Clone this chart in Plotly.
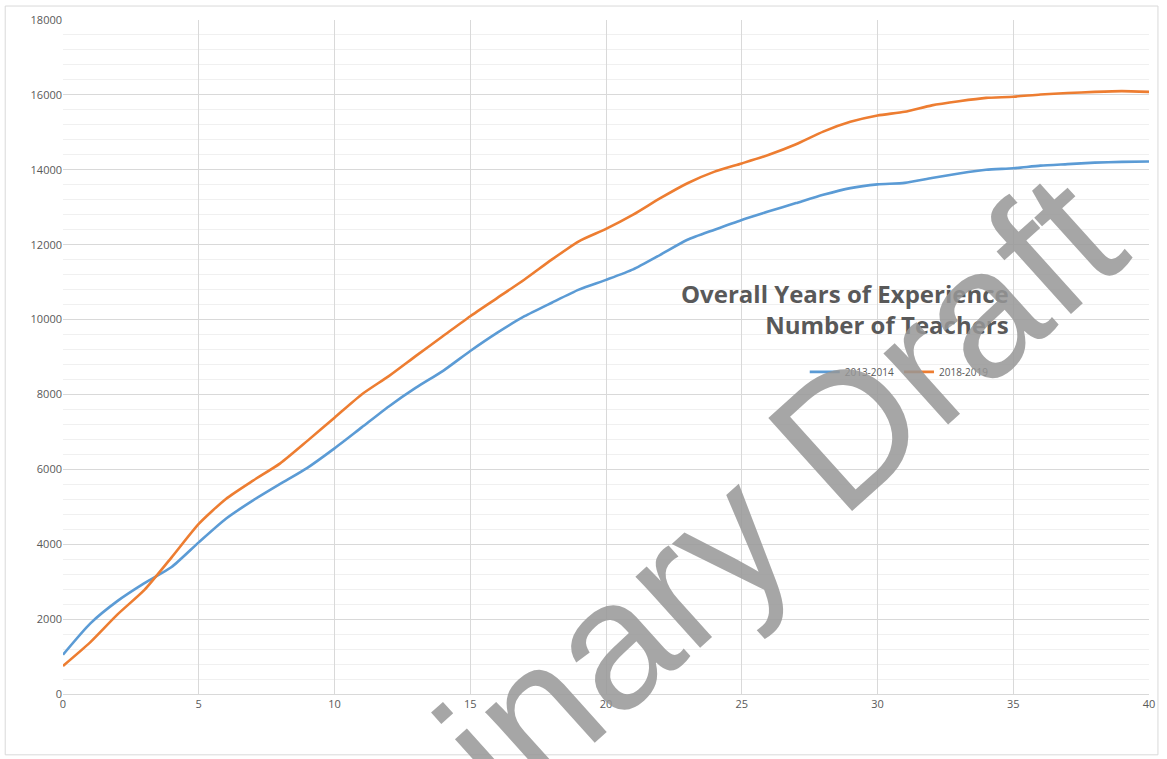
import plotly.graph_objects as go

# Years of experience (0-40) and teacher counts for two school years
years = list(range(0, 41))
teachers_2013_2014 = [
    1050, 1880, 2480, 2960, 3390, 4050, 4680, 5170, 5610, 6040,
    6560, 7120, 7680, 8180, 8630, 9160, 9650, 10090, 10450, 10800,
    11060, 11340, 11730, 12130, 12400, 12660, 12890, 13110, 13330, 13510,
    13610, 13650, 13780, 13900, 14000, 14040, 14110, 14150, 14190, 14210,
    14220,
]
teachers_2018_2019 = [
    750, 1380, 2120, 2780, 3650, 4545, 5210, 5700, 6160, 6760,
    7380, 8000, 8490, 9030, 9560, 10090, 10580, 11070, 11600, 12090,
    12420, 12800, 13240, 13640, 13950, 14170, 14400, 14680, 15020, 15280,
    15450, 15550, 15720, 15830, 15920, 15950, 16010, 16050, 16080, 16100,
    16080,
]
series_names = ["2013-2014", "2018-2019"]
series_colors = ["#5B9BD5", "#ED7D31"]

y_ticks = list(range(0, 18001, 2000))
y_tick_labels = [str(v) for v in y_ticks]
x_ticks = list(range(0, 41, 5))

fig = go.Figure()
for name, vals, col in zip(series_names, [teachers_2013_2014, teachers_2018_2019], series_colors):
    fig.add_trace(go.Scatter(
        x=years, y=vals, name=name, mode="lines",
        line=dict(color=col, width=2.6, shape="spline", smoothing=0.6),
    ))

fig.update_layout(
    width=1167, height=759,
    margin=dict(l=63, r=14, t=18, b=65),
    paper_bgcolor="white", plot_bgcolor="white",
    font=dict(family="Open Sans, Liberation Sans, sans-serif", color="#595959", size=10),
    showlegend=True,
    legend=dict(
        orientation="h", x=0.683, y=0.478, xanchor="left", yanchor="middle",
        font=dict(size=10, color="#595959"), bgcolor="rgba(0,0,0,0)",
        itemwidth=30, tracegroupgap=0,
    ),
)

fig.update_xaxes(
    range=[0, 40], tickvals=x_ticks, showgrid=True, gridcolor="#D9D9D9", gridwidth=1,
    zeroline=False, showline=True, linecolor="#D9D9D9", ticks="", ticklen=0,
    tickfont=dict(size=11, color="#595959"),
)
fig.update_yaxes(
    range=[0, 18000], tickvals=y_ticks, ticktext=y_tick_labels,
    showgrid=True, gridcolor="#D9D9D9", gridwidth=1,
    zeroline=False, showline=False, ticks="",
    minor=dict(dtick=400, showgrid=True, gridcolor="#F0F0F0", gridwidth=1),
    tickfont=dict(size=11, color="#595959"),
)

# Chart title inside the plot area
fig.add_annotation(
    xref="paper", yref="paper", x=0.873, y=0.571, xanchor="right", yanchor="middle",
    text="<b>Overall Years of Experience<br>Number of Teachers</b>",
    align="right", showarrow=False,
    font=dict(family="Open Sans, Liberation Sans, sans-serif", size=24, color="#595959"),
)

# Watermark across the chart
fig.add_annotation(
    xref="paper", yref="paper", x=(590 - 63) / 1090, y=(694 - 664) / 676,
    xanchor="center", yanchor="middle",
    text="Preliminary Draft", textangle=-42, showarrow=False,
    font=dict(family="Liberation Sans, Arial, sans-serif", size=182, color="rgba(150,150,150,0.85)"),
)

# Outer chart border
px_w, px_h = 1090, 676
def to_px(x, y):
    return (x - 63) / px_w, (694 - y) / px_h

x0, y0 = to_px(5, 4)
x1, y1 = to_px(1162, 755)
fig.add_shape(
    type="rect", xref="paper", yref="paper", x0=x0, y0=y1, x1=x1, y1=y0,
    line=dict(color="#D9D9D9", width=1), fillcolor="rgba(0,0,0,0)", layer="below",
)

fig.write_html("out.html")
